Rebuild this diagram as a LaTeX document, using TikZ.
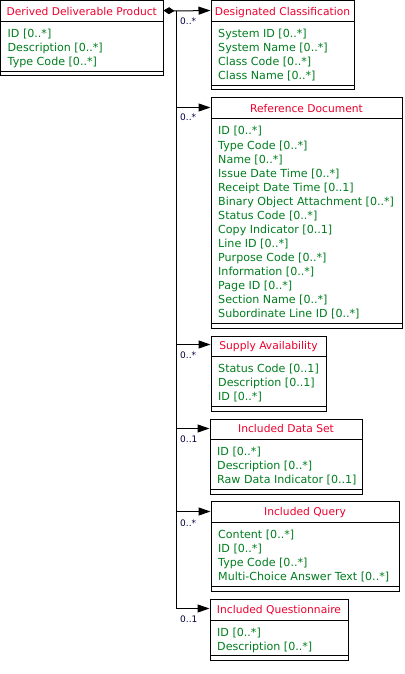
\documentclass[tikz,border=0pt]{standalone}
\usepackage{fontspec}
\setmainfont{DejaVu Sans}
\usetikzlibrary{arrows.meta,fit}
\definecolor{titlered}{RGB}{235,0,45}
\definecolor{attrgreen}{RGB}{0,125,30}
\definecolor{multc}{RGB}{0,0,60}
\tikzset{
  classbox/.style={draw=black, line width=1pt, inner sep=0pt},
  sepline/.style={draw=black, line width=1pt},
  titletext/.style={text=titlered, font=\fontsize{10.7}{12}\selectfont, inner sep=0pt, anchor=base},
  attrtext/.style={text=attrgreen, font=\fontsize{11.1}{14}\selectfont, inner sep=0pt, anchor=base west},
  multtext/.style={text=multc, font=\fontsize{9}{10}\selectfont, inner sep=0pt, anchor=base west},
  assoc/.style={draw=black, line width=1pt, -{Triangle[length=12pt,width=8pt]}},
  assocfirst/.style={draw=black, line width=1pt, {Diamond[length=11pt,width=7pt]}-{Triangle[length=12pt,width=8pt]}}
}
% #1 name, #2 left, #3 top, #4 right, #5 bottom, #6 title separator, #7 title, #8 attributes
\newcommand\uclass[8]{%
  \node[classbox, fit={(#2,#3) (#4,#5)}] (#1) {};
  \draw[sepline] (#2,#6) -- (#4,#6);
  \draw[sepline] (#2,#5-4.5) -- (#4,#5-4.5);
  \node[titletext] (#1-t) at ({(#2+#4)/2}, #6-6.5) {#7};
  \foreach \a [count=\i] in {#8} {\node[attrtext] (#1-a\i) at (#2+7, #6+2+14*\i) {\a};}
}
\begin{document}
\begin{tikzpicture}[x=1pt,y=-1pt]
\useasboundingbox (0,0) rectangle (404,674);
\uclass{ddp}{0.5}{1}{163}{76}{22}{Derived Deliverable Product}{ID [0..*],Description [0..*],Type Code [0..*]}
\uclass{dc}{211}{1}{354}{90}{22}{Designated Classification}{System ID [0..*],System Name [0..*],Class Code [0..*],Class Name [0..*]}
\uclass{rd}{211}{98}{402}{328}{119}{Reference Document}{ID [0..*],Type Code [0..*],Name [0..*],Issue Date Time [0..*],Receipt Date Time [0..1],Binary Object Attachment [0..*],Status Code [0..*],Copy Indicator [0..1],Line ID [0..*],Purpose Code [0..*],Information [0..*],Page ID [0..*],Section Name [0..*],Subordinate Line ID [0..*]}
\uclass{sa}{211}{336}{326}{411}{356}{Supply Availability}{Status Code [0..1],Description [0..1],ID [0..*]}
\uclass{ids}{210}{419}{362}{494}{439}{Included Data Set}{ID [0..*],Description [0..*],Raw Data Indicator [0..1]}
\uclass{iq}{211}{501}{399}{591}{522}{Included Query}{Content [0..*],ID [0..*],Type Code [0..*],Multi-Choice Answer Text [0..*]}
\uclass{iqn}{210}{599}{348}{660}{620}{Included Questionnaire}{ID [0..*],Description [0..*]}
\coordinate (src) at ([yshift=-10pt]ddp.north east);
\coordinate (trunk) at (176,11);
\draw[assocfirst] (src) -- (trunk) -- ([yshift=-10pt]dc.north west);
\draw[assoc] (trunk) |- ([yshift=-10pt]rd.north west);
\draw[assoc] (trunk) |- ([yshift=-9pt]sa.north west);
\draw[assoc] (trunk) |- ([yshift=-10pt]ids.north west);
\draw[assoc] (trunk) |- ([yshift=-11pt]iq.north west);
\draw[assoc] (trunk) |- ([yshift=-10pt]iqn.north west);
\node[multtext] (m1) at (180,25) {0..*};
\node[multtext] (m2) at (180,121) {0..*};
\node[multtext] (m3) at (180,358) {0..*};
\node[multtext] (m4) at (180,442) {0..1};
\node[multtext] (m5) at (180,526) {0..*};
\node[multtext] (m6) at (180,622) {0..1};
\end{tikzpicture}
\end{document}
